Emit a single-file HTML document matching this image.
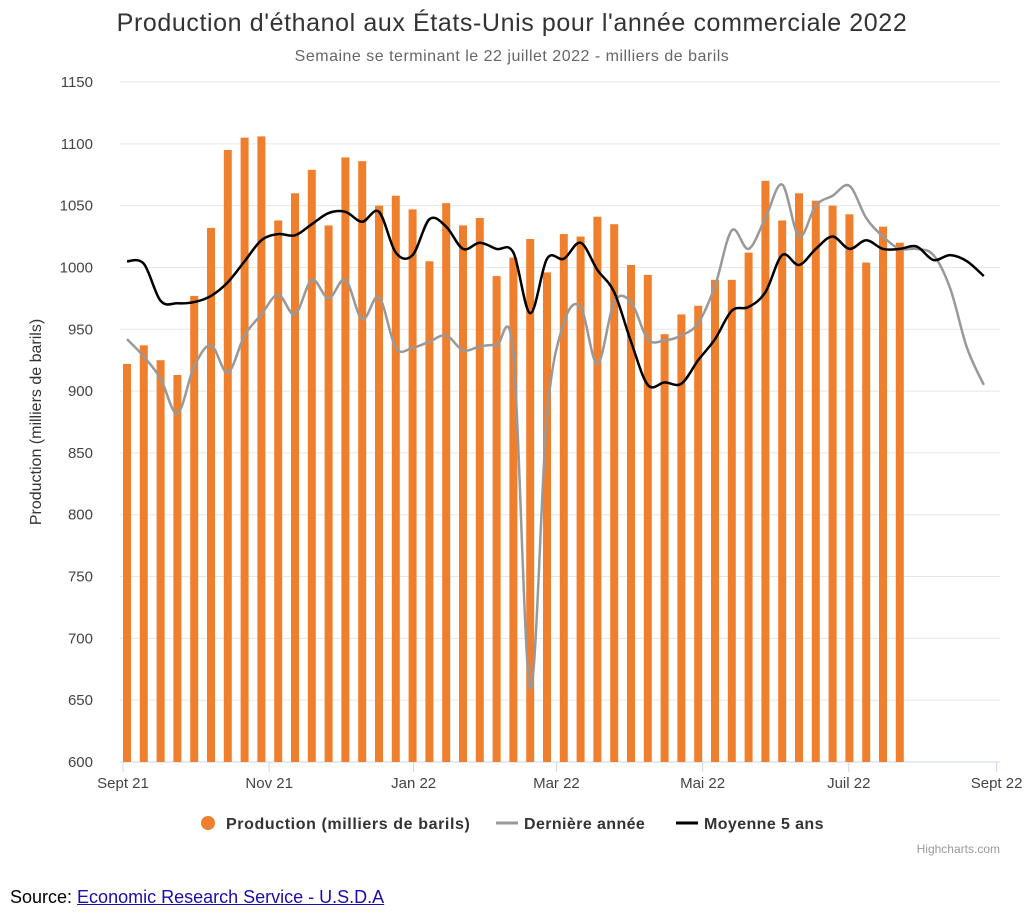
<!DOCTYPE html>
<html><head><meta charset="utf-8"><style>
body{margin:0;background:#fff;width:1024px;height:917px;overflow:hidden;font-family:"Liberation Sans",sans-serif}
svg text{font-family:"Liberation Sans",sans-serif}
a{color:#1a0dab}
</style></head><body>
<svg id="chart" width="1024" height="880" style="position:absolute;left:0;top:0">
<text x="512" y="31" text-anchor="middle" font-size="25" letter-spacing="0.6" fill="#333">Production d'éthanol aux États-Unis pour l'année commerciale 2022</text>
<text x="512" y="61" text-anchor="middle" font-size="16" letter-spacing="0.5" fill="#666">Semaine se terminant le 22 juillet 2022 - milliers de barils</text>
<g id="grid"></g><g id="bars"></g><g id="lines"></g><g id="axes"></g>
<text transform="translate(41,422) rotate(-90)" text-anchor="middle" font-size="16" fill="#333">Production (milliers de barils)</text>
<g>
<g><circle cx="208" cy="823" r="7" fill="#f07f2d"/><text x="226" y="829" font-size="16" font-weight="bold" letter-spacing="0.6" fill="#333">Production (milliers de barils)</text></g>
<g><line x1="496" y1="823" x2="518" y2="823" stroke="#999" stroke-width="3"/><text x="524" y="829" font-size="16" font-weight="bold" letter-spacing="0.4" fill="#333">Dernière année</text></g>
<g><line x1="676" y1="823" x2="698" y2="823" stroke="#000" stroke-width="3"/><text x="704" y="829" font-size="16" font-weight="bold" letter-spacing="0.4" fill="#333">Moyenne 5 ans</text></g>
</g>
<text x="1000" y="853" text-anchor="end" font-size="12" fill="#999">Highcharts.com</text>
</svg>
<div style="position:absolute;left:10px;top:887px;font-size:18px;color:#000">Source: <a href="#">Economic Research Service - U.S.D.A</a></div>
<script>
const production=[922,937,925,913,977,1032,1095,1105,1106,1038,1060,1079,1034,1089,1086,1050,1058,1047,1005,1052,1034,1040,993,1008,1023,996,1027,1025,1041,1035,1002,994,946,962,969,990,990,1012,1070,1038,1060,1054,1050,1043,1004,1033,1020];
const lastYear=[942,928,910,882,920,937,915,945,962,978,962,990,975,990,958,976,935,935,940,945,933,936,937,930,660,880,955,968,922,972,972,942,941,945,955,985,1030,1015,1040,1067,1025,1050,1058,1066,1040,1025,1015,1015,1010,983,935,905];
const avg5=[1005,1003,973,971,972,977,988,1005,1022,1027,1026,1035,1044,1045,1037,1045,1012,1010,1039,1033,1015,1020,1015,1012,963,1007,1007,1020,998,980,940,905,907,906,925,942,965,968,980,1010,1002,1015,1025,1015,1022,1015,1015,1017,1006,1010,1005,993];
const yTicks=[600,650,700,750,800,850,900,950,1000,1050,1100,1150];
const xLabels=["Sept 21","Nov 21","Jan 22","Mar 22","Mai 22","Juil 22","Sept 22"];
const xLabelPos=[0,8.7,17.3,25.8,34.5,43.2,52];
const NS="http://www.w3.org/2000/svg";
const L=120,R=1000,T=82,B=762;
const y=v=>B-(v-600)/550*(B-T);
const x=i=>127+i*16.8;
function mk(t,a,p){const e=document.createElementNS(NS,t);for(const k in a)e.setAttribute(k,a[k]);p.appendChild(e);return e;}
const grid=document.getElementById('grid'),axes=document.getElementById('axes');
yTicks.forEach(v=>{
 const l=mk('line',{x1:L,x2:R,y1:y(v),y2:y(v),stroke:v===600?'#ccd6eb':'#e6e6e6','stroke-width':1},grid);
 
 
 const t=mk('text',{x:93,y:y(v)+5,'text-anchor':'end','font-size':15,fill:'#444'},axes);
 t.textContent=v;
 
 
});
xLabels.forEach((s,k)=>{
 const px=123+xLabelPos[k]*16.8;
 const tk=mk('line',{x1:px,x2:px,y1:B,y2:B+10,stroke:'#ccd6eb'},axes);
 
 
 const t=mk('text',{x:px,y:788,'text-anchor':'middle','font-size':15,fill:'#444'},axes);
 t.textContent=s;
 
 
});
const bars=document.getElementById('bars');
production.forEach((v,i)=>{
 const r=mk('rect',{x:x(i)-4,y:y(v),width:8,height:B-y(v),fill:'#f07f2d'},bars);
 
 
});
function smooth(arr){
 const p=arr.map((v,i)=>[x(i),y(v)]);let d='M'+p[0][0]+','+p[0][1];
 for(let i=0;i<p.length-1;i++){
  const p0=p[i-1]||p[i],p1=p[i],p2=p[i+1],p3=p[i+2]||p2;
  const c1=[p1[0]+(p2[0]-p0[0])/6,p1[1]+(p2[1]-p0[1])/6],c2=[p2[0]-(p3[0]-p1[0])/6,p2[1]-(p3[1]-p1[1])/6];
  d+=`C${c1[0]},${c1[1]} ${c2[0]},${c2[1]} ${p2[0]},${p2[1]}`;
 }return d;
}
const lines=document.getElementById('lines');
const g1=mk('path',{d:smooth(lastYear),fill:'none',stroke:'#999','stroke-width':2.5},lines);


const g2=mk('path',{d:smooth(avg5),fill:'none',stroke:'#000','stroke-width':2.5},lines);


</script>
</body></html>
